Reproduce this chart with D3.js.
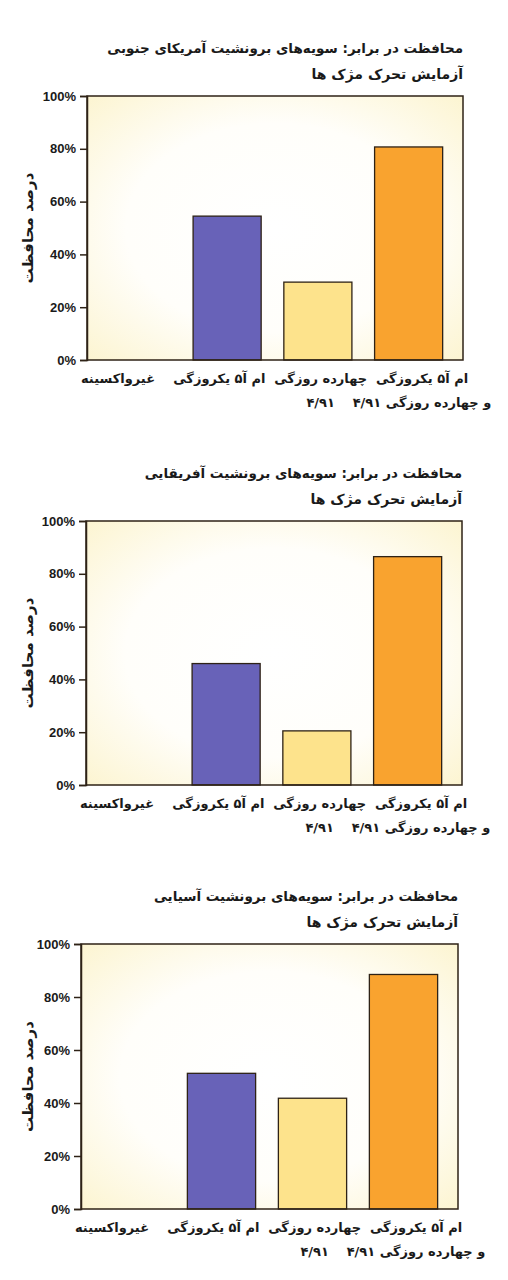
<!DOCTYPE html>
<html>
<head>
<meta charset="utf-8">
<script src="https://cdn.jsdelivr.net/npm/d3@7"></script>
<style>
  body { margin: 0; background: #fff; }
  svg { display: block; }
</style>
</head>
<body>
<div id="area"></div>
<script>
// data
const categories = ["غیرواکسینه", "ام آ۵ یکروزگی", "چهارده روزگی ۴/۹۱", "ام آ۵ یکروزگی و چهارده روزگی ۴/۹۱"]
const categoryLines = [["غیرواکسینه"], ["ام آ۵ یکروزگی"], ["چهارده روزگی", "۴/۹۱"], ["ام آ۵ یکروزگی", "و چهارده روزگی ۴/۹۱"]]
const barColors = ["#fdf8dc", "#6862b8", "#fde38c", "#f9a32f"]
const yTicks = [0, 20, 40, 60, 80, 100]

const titles = [
    "محافظت در برابر: سویه‌های برونشیت آمریکای جنوبی",
    "محافظت در برابر: سویه‌های برونشیت آفریقایی",
    "محافظت در برابر: سویه‌های برونشیت آسیایی"
]
const subtitle = "آزمایش تحرک مژک ها"
const yLabel = "درصد محافظت"

const southAmerica = [0, 54.5, 29.5, 80.7]
const africa = [0, 46, 20.5, 86.5]
const asia = [0, 51.2, 41.8, 88.5]

const width = 508, height = 1280

const svg = d3.select("#area").append("svg")
    .attr("width", width)
    .attr("height", height)

const grad = svg.append("defs").append("radialGradient")
    .attr("id", "bg")
    .attr("cx", "50%").attr("cy", "50%").attr("r", "72%")
grad.append("stop").attr("offset", "0%").attr("stop-color", "#ffffff")
grad.append("stop").attr("offset", "55%").attr("stop-color", "#fffefa")
grad.append("stop").attr("offset", "100%").attr("stop-color", "#fcf4cf")

const persian = "'DejaVu Sans', sans-serif"

function drawChart(values, title, box) {
    const {left, right, top, bottom} = box

    const y = d3.scaleLinear().domain([0, 100]).range([bottom, top])
    const x = d3.scaleBand()
        .domain(categories)
        .range([left + 4, right - 9])
        .paddingInner(0.25)
        .paddingOuter(0.125)
    const xl = d3.scalePoint()
        .domain(categories)
        .range([left + 31, left + 335])

    const g = svg.append("g")

    // titles (rtl: start = right edge)
    g.append("text")
        .attr("x", right)
        .attr("y", top - 43)
        .attr("text-anchor", "start")
        .style("direction", "rtl")
        .attr("font-family", persian)
        .attr("font-weight", "bold")
        .attr("font-size", 13.5)
        .attr("fill", "#1a1a1a")
        .text(title)

    g.append("text")
        .attr("x", right)
        .attr("y", top - 17)
        .attr("text-anchor", "start")
        .style("direction", "rtl")
        .attr("font-family", persian)
        .attr("font-weight", "bold")
        .attr("font-size", 14)
        .attr("fill", "#1a1a1a")
        .text(subtitle)

    // plot background
    g.append("rect")
        .attr("x", left)
        .attr("y", top)
        .attr("width", right - left)
        .attr("height", bottom - top)
        .attr("fill", "url(#bg)")

    // bars
    g.append("g")
        .selectAll("rect")
        .data(values)
        .join("rect")
        .attr("x", (d, i) => x(categories[i]))
        .attr("y", d => y(d))
        .attr("width", x.bandwidth())
        .attr("height", d => y(0) - y(d))
        .attr("fill", (d, i) => barColors[i])
        .attr("stroke", d => d > 0 ? "#2e2216" : "none")
        .attr("stroke-width", 1.3)

    // frame
    g.append("rect")
        .attr("x", left)
        .attr("y", top)
        .attr("width", right - left)
        .attr("height", bottom - top)
        .attr("fill", "none")
        .attr("stroke", "#2e2216")
        .attr("stroke-width", 1.5)

    // y axis
    const axis = g.append("g")
        .attr("transform", `translate(${left},0)`)
        .call(d3.axisLeft(y).tickValues(yTicks).tickFormat(d => d + "%").tickSize(7).tickPadding(4))
    axis.select(".domain").attr("stroke", "#2e2216").attr("stroke-width", 1.5)
    axis.selectAll(".tick line").attr("stroke", "#2e2216").attr("stroke-width", 1.5)
    axis.selectAll(".tick text")
        .attr("font-family", "'Liberation Sans', Arial, sans-serif")
        .attr("font-weight", "bold")
        .attr("font-size", 13)
        .attr("fill", "#1a1a1a")

    // y label
    g.append("text")
        .attr("transform", `translate(28,${(top + bottom) / 2}) rotate(-90)`)
        .attr("text-anchor", "middle")
        .attr("dy", "0.35em")
        .style("direction", "rtl")
        .attr("font-family", persian)
        .attr("font-weight", "bold")
        .attr("font-size", 15)
        .attr("fill", "#1a1a1a")
        .text(yLabel)

    // category labels
    const lab = g.append("g")
        .selectAll("text")
        .data(categories)
        .join("text")
        .attr("x", d => xl(d))
        .attr("text-anchor", "middle")
        .style("direction", "rtl")
        .attr("font-family", persian)
        .attr("font-weight", "bold")
        .attr("font-size", 13)
        .attr("fill", "#1a1a1a")

    lab.each(function (d, i) {
        categoryLines[i].forEach((line, j) => {
            d3.select(this).append("tspan")
                .attr("x", xl(d))
                .attr("y", bottom + 23 + j * 24)
                .text(line)
        })
    })
}

drawChart(southAmerica, titles[0], {left: 87, right: 463, top: 96, bottom: 360})
drawChart(africa, titles[1], {left: 86, right: 462, top: 521, bottom: 785})
drawChart(asia, titles[2], {left: 81, right: 458, top: 944, bottom: 1209})
</script>
</body>
</html>
